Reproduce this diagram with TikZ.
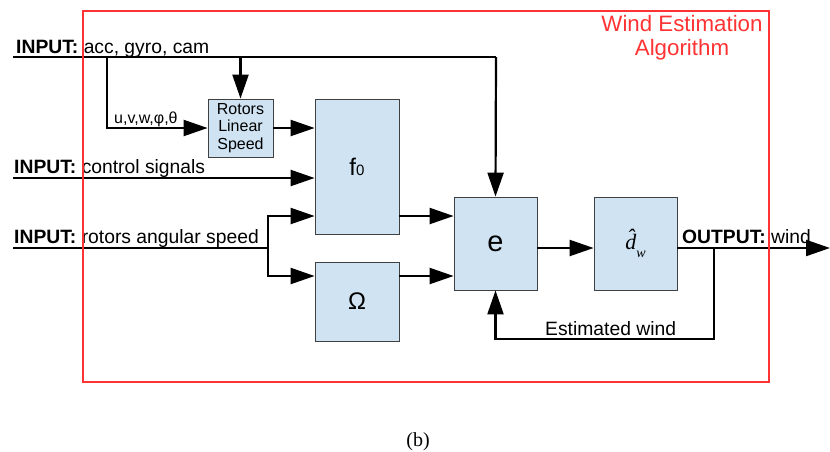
\documentclass[tikz,border=0pt]{standalone}
\usepackage{fontspec}
\setmainfont{Liberation Sans}
\newfontfamily\capfont{Liberation Serif}
\usetikzlibrary{arrows.meta}
\definecolor{boxfill}{HTML}{CFE3F2}
\definecolor{boxline}{HTML}{404040}
\definecolor{algred}{HTML}{FF3333}
\tikzset{
  blk/.style={draw=boxline, line width=0.8pt, fill=boxfill, inner sep=0pt},
  arr/.style={line width=2.2pt, -{Triangle[length=24pt,width=16pt]}},
  ln/.style={line width=2.2pt},
  lbl/.style={anchor=base west, inner sep=0pt, font=\fontsize{19.3}{23}\selectfont},
  small/.style={font=\fontsize{16}{17.5}\selectfont}
}
\begin{document}
\begin{tikzpicture}[x=1pt,y=-1pt]
\useasboundingbox (0,0) rectangle (830,451);

% blocks
\node[blk, minimum width=65pt, minimum height=58pt, small, align=center] (rot) at (240.5,128) {Rotors\\Linear\\Speed};
\node[blk, minimum width=84pt, minimum height=135pt, font=\fontsize{24}{24}\selectfont] (f0) at (357,166.5) {f{\fontsize{15}{15}\selectfont 0}\hspace{3pt}};
\node[blk, minimum width=84pt, minimum height=79pt, font=\fontsize{24}{26}\selectfont] (om) at (357,301.5) {Ω};
\node[blk, minimum width=83pt, minimum height=93pt, font=\fontsize{29}{30}\selectfont] (e) at (495.5,243.5) {e};
\node[blk, minimum width=83pt, minimum height=93pt, font=\capfont\itshape\fontsize{22}{23}\selectfont] (d) at (635.5,243.5) {\^{d}\raisebox{-8pt}{\fontsize{14}{14}\selectfont w}};

% coordinates
\coordinate (in1) at (13,57);
\coordinate (c1) at (496,57);
\coordinate (j1) at (107,57);
\coordinate (j1b) at (107,128);
\coordinate (j2) at (240.5,57);
\coordinate (in2) at (13,178);
\coordinate (in3) at (13,248);
\coordinate (j3) at (268,248);
\coordinate (ja) at (268,216);
\coordinate (jb) at (268,276);
\coordinate (ey) at (0,248);
\coordinate (out) at (830,248);
\coordinate (fb) at (714,248);
\coordinate (fb2) at (714,339);
\coordinate (fb3) at (495.5,339);

% connectors
\draw[ln] (in1) -- (c1);
\draw[arr] (c1) -- (e.north);
\draw[arr] (j1) -- (j1b) -- (rot.west);
\draw[arr] (j2) -- (rot.north);
\draw[arr] (rot.east) -- (rot.east -| f0.west);
\draw[arr] (in2) -- (in2 -| f0.west);
\draw[ln] (in3) -- (j3);
\draw[arr] (ja |- jb) -- (ja) -- (ja -| f0.west);
\draw[arr] (ja) -- (jb) -- (jb -| om.west);
\draw[arr] (ja -| f0.east) -- (ja -| e.west);
\draw[arr] (jb -| om.east) -- (jb -| e.west);
\draw[arr] (ey -| e.east) -- (ey -| d.west);
\draw[arr] (ey -| d.east) -- (out);
\draw[ln] (fb) -- (fb2) -- (fb3);
\draw[arr] (fb2) -- (fb3) -- (e.south);

% labels
\node[lbl] (t1) at (16,53) {\textbf{INPUT:} acc, gyro, cam};
\node[lbl] (t2) at (14,173) {\textbf{INPUT:} control signals};
\node[lbl] (t3) at (14,243) {\textbf{INPUT:} rotors angular speed};
\node[lbl, small] (t4) at (114,123) {u,v,w,φ,θ};
\node[lbl] (t5) at (682,243) {\textbf{OUTPUT:} wind};
\node[lbl] (t6) at (545,335) {Estimated wind};
\node[anchor=base, inner sep=0pt, text=algred, font=\fontsize{22.3}{24}\selectfont] (w1) at (682,31) {Wind Estimation};
\node[anchor=base, inner sep=0pt, text=algred, font=\fontsize{22.3}{24}\selectfont] (w2) at (682,55) {Algorithm};
\node[anchor=base, inner sep=0pt, font=\capfont\fontsize{20}{22}\selectfont] (cap) at (418,446) {(b)};

% algorithm frame
\draw[draw=algred, line width=2pt] (83,11) rectangle (769,382);
\end{tikzpicture}
\end{document}
